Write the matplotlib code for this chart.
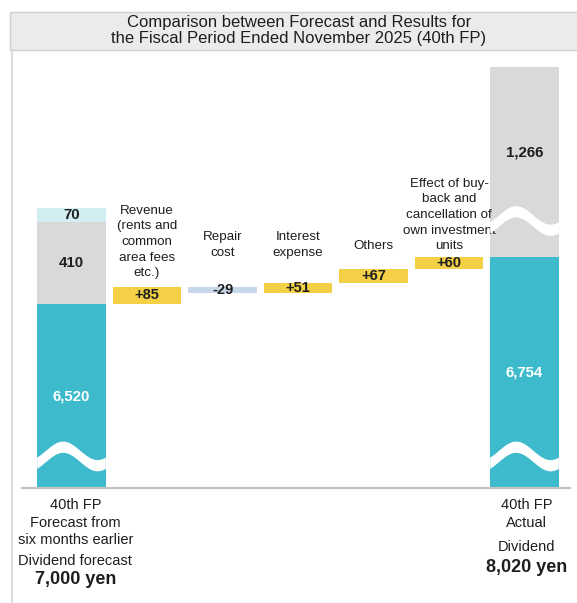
import numpy as np
import matplotlib
matplotlib.use("Agg")
import matplotlib.pyplot as plt
from matplotlib.patches import Rectangle, Polygon
from matplotlib.lines import Line2D
from matplotlib.transforms import blended_transform_factory

plt.rcParams['font.family'] = ['Liberation Sans', 'DejaVu Sans']

# dividend per unit (yen)
forecast_parts = [6520, 410, 70]
actual_parts = [6754, 1266]
forecast_total = 7000
actual_total = 8020
step_labels = ["Revenue\n(rents and\ncommon\narea fees\netc.)",
               "Repair\ncost",
               "Interest\nexpense",
               "Others",
               "Effect of buy-\nback and\ncancellation of\nown investment\nunits"]
step_values = [85, -29, 51, 67, 60]

TEAL = "#3DBACB"
GRAY = "#D9D9D9"
PALE = "#D3EEF3"
YELLOW = "#F3D046"
NEG = "#C8D7EA"
INK = "#1E1E1E"

W, H = 577, 603
fig = plt.figure(figsize=(W / 100, H / 100), dpi=100)

def fy(px):
    # pixel row from top -> figure fraction
    return 1 - px / H

ax = fig.add_axes([12 / W, fy(488), 565 / W, (488 - 67) / H])
ax.set_xlim(-0.788, 6.695)
ax.set_ylim(5604, 7700)
ax.axis("off")
lo, hi = ax.get_ylim()
bw = 0.91
xy = blended_transform_factory(ax.transData, fig.transFigure)


def visible_mid(bottom, top):
    return (max(bottom, lo) + min(top, hi)) / 2


def wave_break(xc, yc, amp=46, half=28):
    t = np.linspace(0, 1, 80)
    xs = xc - bw / 2 + t * bw
    mid = yc + amp * np.sin(2 * np.pi * (t - 0.13))
    pts = np.vstack([np.column_stack([xs, mid + half]),
                     np.column_stack([xs[::-1], (mid - half)[::-1]])])
    ax.add_patch(Polygon(pts, closed=True, facecolor="white",
                         edgecolor="none", zorder=4))


# forecast column (stacked)
bottom = 0
for val, col in zip(forecast_parts, [TEAL, GRAY, PALE]):
    ax.bar(0, val, bw, bottom=bottom, color=col, zorder=2)
    ax.text(0, visible_mid(bottom, bottom + val), f"{val:,}",
            ha="center", va="center", fontsize=10.8, fontweight="bold",
            color="white" if col == TEAL else INK, zorder=5)
    bottom += val

# waterfall steps
running = forecast_parts[0]
label_rows = [242, 245, 245, 246, 215]
for i, (lab, d) in enumerate(zip(step_labels, step_values), start=1):
    b = min(running, running + d)
    ax.bar(i, abs(d), bw, bottom=b, color=YELLOW if d > 0 else NEG, zorder=2)
    ax.text(i, b + abs(d) / 2, f"{d:+d}", ha="center", va="center",
            fontsize=10.5, fontweight="bold", color=INK, zorder=5)
    ax.text(i, fy(label_rows[i - 1]), lab, transform=xy, ha="center",
            va="center", fontsize=9.6, color=INK, linespacing=1.4)
    running += d

# actual column (stacked)
bottom = 0
for val, col in zip(actual_parts, [TEAL, GRAY]):
    ax.bar(6, val, bw, bottom=bottom, color=col, zorder=2)
    ymid = visible_mid(bottom, bottom + val)
    if col == GRAY:
        ymid += 45
    ax.text(6, ymid, f"{val:,}", ha="center", va="center",
            fontsize=10.8, fontweight="bold",
            color="white" if col == TEAL else INK, zorder=5)
    bottom += val

# axis breaks
wave_break(0, 5761)
wave_break(6, 5761)
wave_break(6, 6933)

# baseline
ax.axhline(lo, xmin=10 / 565, xmax=558 / 565, color="#C4C4C4", lw=1.6,
           clip_on=False, zorder=3)

# category captions under the columns
for txt, row, size, weight in [("40th FP", 505, 10.5, "normal"),
                               ("Forecast from", 523, 10.5, "normal"),
                               ("six months earlier", 540, 10.5, "normal"),
                               ("Dividend forecast", 561, 10.5, "normal"),
                               (f"{forecast_total:,} yen", 580, 13, "bold")]:
    ax.text(0.05, fy(row), txt, transform=xy, ha="center", va="center",
            fontsize=size, fontweight=weight, color=INK)
for txt, row, size, weight in [("40th FP", 505, 10.5, "normal"),
                               ("Actual", 523, 10.5, "normal"),
                               ("Dividend", 547, 10.5, "normal"),
                               (f"{actual_total:,} yen", 567, 13, "bold")]:
    ax.text(6.03, fy(row), txt, transform=xy, ha="center", va="center",
            fontsize=size, fontweight=weight, color=INK)

# title band and panel frame
fig.patches.append(Rectangle((10 / W, fy(50)), 1, (50 - 12) / H,
                             transform=fig.transFigure, facecolor="#EBEBEB",
                             edgecolor="#CFCFCF", lw=1))
fig.lines.append(Line2D([12 / W, 12 / W], [fy(50), 0],
                        transform=fig.transFigure, color="#D6D6D6", lw=1.2))
fig.text(299 / W, fy(22), "Comparison between Forecast and Results for",
         ha="center", va="center", fontsize=12, color=INK)
fig.text(299 / W, fy(39), "the Fiscal Period Ended November 2025 (40th FP)",
         ha="center", va="center", fontsize=12, color=INK)

fig.savefig("out.png", dpi=100)
